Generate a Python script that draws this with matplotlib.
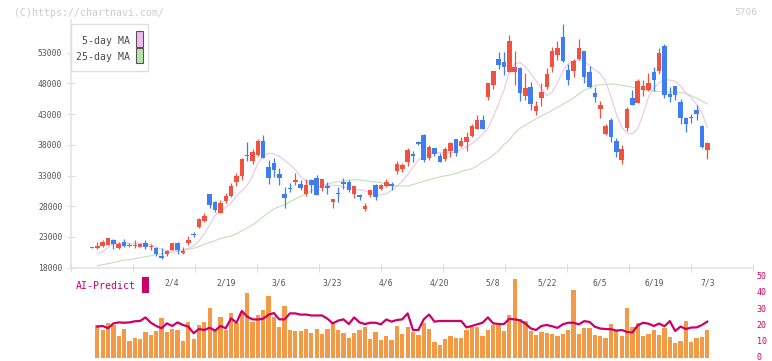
import numpy as np
import matplotlib
matplotlib.use('Agg')
import matplotlib.pyplot as plt
from matplotlib.patches import Rectangle
from matplotlib.transforms import ScaledTranslation

nan = np.nan

# ---- daily candles (first candle has no MA / volume values shown) ----
opens = [21300, 21210, 21530, 21750, 22510, 21210, 22180, 21530, 21600, 21420,
         22070, 21420, 21260, 19950, 20230, 20880, 22020, 20390, 22070, 23540,
         24630, 25600, 30000, 28750, 26950, 28910, 29670, 32000, 32930, 36400,
         35320, 36400, 38680, 34440, 35050, 33250, 30000, 31030, 31900, 31580,
         30000, 32280, 32550, 31030, 31300, 28750, 30230, 32000, 32000, 30000,
         29790, 27510, 29830, 31460, 30810, 31350, 31630, 33790, 34120, 35260,
         36510, 38460, 39600, 35910, 37440, 36180, 35650, 37050, 38950, 37820,
         38510, 39520, 40660, 42070, 45840, 47740, 51980, 51540, 49800, 49800,
         50560, 45950, 47470, 43510, 45680, 47370, 50720, 52680, 55600, 50190,
         50080, 52030, 53280, 49910, 46490, 43890, 39840, 42050, 38680, 35530,
         40690, 45580, 44860, 46930, 46930, 49910, 50080, 54100, 46280, 47580,
         45030, 42420, 42500, 43670, 41090, 37240]
highs = [21350, 22130, 22500, 22850, 22720, 22230, 22670, 22070, 22510, 22070,
         22510, 21910, 21420, 21200, 20880, 22050, 22180, 21420, 23160, 23810,
         26140, 26860, 30000, 28800, 29020, 30110, 31740, 33470, 35910, 38460,
         37270, 38950, 39600, 35530, 35810, 34180, 31190, 31740, 33370, 32280,
         32440, 32390, 33090, 32440, 32000, 29200, 31190, 32650, 32280, 31300,
         29960, 28480, 30650, 31630, 31580, 32440, 31900, 35370, 35000, 37440,
         37050, 38630, 39770, 37980, 37440, 36720, 37600, 38510, 38950, 39330,
         40140, 41470, 42860, 42860, 48020, 50000, 53070, 53070, 55880, 53330,
         50600, 49650, 48280, 45190, 48120, 50460, 53980, 54960, 57670, 51160,
         51920, 55230, 53300, 50840, 47470, 45140, 41470, 42320, 39070, 37980,
         44110, 46930, 48720, 48560, 49750, 50730, 53720, 54420, 47470, 47580,
         45420, 42580, 43020, 44490, 41210, 38490]
lows = [21280, 21050, 21420, 21750, 21100, 21100, 21420, 21320, 21210, 21320,
        21100, 20830, 19900, 19400, 19900, 20850, 20230, 20230, 21700, 22950,
        24410, 25440, 27770, 27120, 26950, 28580, 29560, 31300, 32280, 35420,
        34930, 36200, 35810, 31670, 32820, 31460, 27770, 30370, 31460, 30650,
        29720, 30110, 29830, 30540, 30000, 27770, 28750, 30810, 30370, 29300,
        29020, 27280, 29560, 29020, 30650, 31190, 30650, 33200, 33630, 34560,
        35260, 37980, 35260, 35530, 36180, 35260, 35420, 36070, 36180, 37700,
        37050, 39230, 40530, 40660, 45300, 47040, 50300, 49370, 49800, 47740,
        45140, 45300, 43670, 42860, 44330, 47040, 49910, 51810, 51540, 47700,
        48990, 51810, 48120, 47200, 45030, 42420, 39580, 38510, 36070, 34880,
        40310, 44490, 44860, 45950, 46820, 46820, 49530, 45580, 45030, 45300,
        41470, 40140, 41610, 42050, 37510, 35770]
closes = [21330, 21530, 22180, 22840, 21860, 21860, 21530, 21700, 21660, 21910,
          21420, 21580, 20280, 19630, 20720, 22020, 20880, 20770, 22560, 23280,
          25930, 26420, 28260, 27340, 28530, 29670, 31300, 32930, 35750, 36180,
          36790, 38680, 35910, 32650, 33900, 32650, 29400, 30760, 32280, 31030,
          31460, 31460, 29830, 32440, 31030, 29180, 29960, 31580, 30650, 31300,
          29510, 28090, 30650, 29560, 31460, 32000, 31350, 34880, 34720, 37160,
          36230, 38190, 35530, 37600, 36460, 35260, 37320, 38250, 36720, 38680,
          39330, 41090, 42070, 40660, 48020, 49970, 51000, 50730, 54910, 50630,
          46490, 47300, 44650, 44330, 46660, 49530, 53280, 53770, 51650, 48560,
          51650, 53770, 49120, 47470, 45840, 44490, 41090, 39330, 36880, 37270,
          43780, 44490, 48400, 47580, 48120, 48560, 53000, 46120, 45840, 46120,
          42320, 41470, 42450, 43020, 37680, 38330]

ma5 = [nan, 20300, 20650, 21300, 21900, 21970, 21970, 21970, 21970, 21970,
       21950, 21750, 21350, 21000, 20800, 20730, 20740, 20900, 21150, 21550,
       22400, 23500, 25000, 26500, 27250, 27800, 28600, 29700, 30500, 31400,
       32900, 35000, 36100, 36650, 36550, 36100, 35500, 34800, 33900, 32900,
       32100, 31650, 31300, 31300, 31380, 31410, 31400, 31190, 30850, 30700,
       30650, 30550, 30200, 29900, 29840, 30050, 30600, 31250, 32100, 33100,
       34400, 35550, 36150, 36550, 36700, 36730, 36700, 36640, 36850, 37250,
       37700, 38200, 38900, 39700, 40700, 42600, 44700, 46900, 50000, 51200,
       51380, 50700, 49600, 48400, 47200, 46000, 46600, 48100, 50000, 51200,
       51700, 51850, 51600, 50900, 50200, 49600, 48400, 45800, 43000, 40900,
       39900, 39800, 40600, 43000, 45800, 47200, 48100, 48600, 48560, 48350,
       47600, 46400, 45700, 44600, 43200, 40900]
ma25 = [nan, 18300, 18500, 18650, 18850, 19050, 19230, 19320, 19450, 19650,
        19800, 19950, 20100, 20250, 20380, 20520, 20680, 20820, 20990, 21180,
        21450, 21850, 22100, 22400, 22750, 22950, 23150, 23550, 24000, 24450,
        24950, 25600, 26300, 26950, 27600, 27900, 28250, 28750, 29200, 29600,
        30050, 30500, 30900, 31350, 31600, 31850, 32000, 32100, 32250, 32300,
        32300, 32200, 32050, 31950, 31850, 31600, 31400, 31300, 31300, 31300,
        31550, 31800, 32050, 32300, 32550, 32800, 32950, 33100, 33350, 33650,
        33900, 34100, 34600, 35200, 35650, 36300, 37100, 38050, 38800, 39900,
        40690, 41200, 41700, 42250, 42700, 43150, 43600, 44100, 44600, 45100,
        45600, 46300, 46900, 47300, 47650, 47780, 47850, 47900, 47850, 47700,
        47550, 47400, 47200, 46950, 46800, 46750, 46700, 46650, 46600, 46550,
        46500, 46400, 46000, 45600, 45100, 44650]

volume = [nan, 20.6, 17.5, 22.0, 20.6, 13.8, 18.1, 10.9, 12.5, 11.9, 16.5,
          14.4, 16.9, 24.9, 16.3, 18.1, 17.5, 10.9, 22.7, 11.9, 20.6,
          22.5, 31.1, 17.5, 25.8, 17.5, 28.2, 21.6, 28.2, 40.6, 22.7,
          26.8, 29.9, 38.6, 25.8, 19.6, 32.4, 17.5, 16.9, 16.9, 18.1,
          15.8, 18.1, 15.0, 18.1, 22.7, 17.5, 15.8, 12.5, 15.8, 17.5,
          19.6, 11.9, 16.5, 11.3, 13.8, 11.3, 20.0, 15.0, 19.6, 16.5,
          14.4, 22.0, 18.1, 10.3, 8.2, 11.9, 13.8, 12.5, 12.5, 17.5,
          19.6, 19.6, 13.8, 17.5, 20.6, 20.6, 16.9, 26.8, 49.1, 24.3,
          23.1, 16.9, 14.4, 16.5, 15.8, 15.0, 13.8, 15.0, 17.5, 42.3,
          15.0, 18.7, 18.7, 14.4, 13.8, 12.5, 21.2, 16.9, 13.8, 31.1,
          19.3, 21.8, 13.8, 15.0, 17.5, 14.4, 18.7, 13.2, 9.6, 10.7,
          23.1, 10.0, 12.5, 13.2, 17.5]
ai_predict = [nan, 19.6, 20.0, 18.6, 21.6, 22.2, 22.0, 22.2, 22.9, 23.1, 25.3,
              22.0, 20.0, 18.6, 21.6, 20.0, 22.2, 20.6, 19.6, 15.5, 18.1,
              17.5, 18.9, 17.1, 20.0, 18.6, 24.7, 22.0, 29.3, 25.8, 24.1,
              24.0, 24.5, 27.0, 28.0, 24.1, 24.1, 27.8, 27.8, 27.0, 27.1,
              26.5, 26.5, 26.5, 24.5, 21.6, 23.3, 24.1, 21.2, 25.3, 22.2,
              21.2, 22.0, 22.0, 21.0, 24.0, 22.7, 23.7, 24.1, 27.8, 17.5,
              17.5, 24.1, 27.1, 22.7, 23.1, 23.1, 23.1, 23.1, 23.1, 19.1,
              20.0, 21.0, 22.0, 25.3, 21.6, 21.2, 21.2, 24.4, 24.1, 23.5,
              21.5, 18.5, 17.5, 20.0, 20.6, 19.8, 18.8, 21.0, 22.0, 22.0,
              21.0, 23.0, 22.5, 19.5, 18.4, 18.1, 18.0, 17.1, 17.5, 16.3,
              15.9, 20.3, 22.0, 21.4, 20.0, 21.5, 19.8, 23.0, 16.9, 19.6,
              18.1, 19.0, 19.1, 20.6, 22.7]

label_dates = ['2/4', '2/19', '3/6', '3/23', '4/6', '4/20', '5/8', '5/22', '6/5', '6/19', '7/3']
label_pos = [15, 25, 35, 45, 55, 65, 75, 85, 95, 105, 115]
price_ticks = [18000, 23000, 28000, 33000, 38000, 43000, 48000, 53000]
ai_ticks = [0, 10, 20, 30, 40, 50]

# ---- styling ----
RED = '#f0523f'
BLUE = '#3f7ef0'
MONO = 'DejaVu Sans Mono'
W, H = 772, 361

fig = plt.figure(figsize=(W / 100, H / 100), dpi=100)
fig.patch.set_facecolor('white')

def fx(px):
    return px / W

def fy(py):
    return 1 - py / H

XL0, XL1 = -3.98, 123.49

ax = fig.add_axes([fx(70.7), fy(267.7), fx(752.7) - fx(70.7), fy(20) - fy(267.7)])
ax.set_xlim(XL0, XL1)
ax.set_ylim(18000, 58325)

idx = np.arange(len(opens))
o = np.array(opens, float)
c = np.array(closes, float)
up = c >= o
cols = np.where(up, RED, BLUE)
lo = np.minimum(o, c)
hgt = np.abs(c - o)
mid = (o + c) / 2
minh = 130
bot = np.where(hgt < minh, mid - minh / 2, lo)
hgt = np.maximum(hgt, minh)

ax.plot(idx, ma25, color='#c0e2b4', lw=0.8, zorder=2)
ax.plot(idx, ma5, color='#ecc4ec', lw=0.8, zorder=2)
ax.vlines(idx, lows, highs, colors=cols, lw=0.9, zorder=3)
ax.bar(idx, hgt, bottom=bot, width=0.84, color=cols, linewidth=0, zorder=4)

for s in ['top', 'right']:
    ax.spines[s].set_visible(False)
for s in ['left', 'bottom']:
    ax.spines[s].set_color('#e2e2e2')
    ax.spines[s].set_linewidth(1.1)

ax.set_yticks(price_ticks)
ax.set_yticklabels([str(t) for t in price_ticks], family=MONO)
ax.set_xticks(np.linspace(XL0, XL1, 12))
ax.set_xticklabels([])
ax.tick_params(axis='both', direction='inout', length=6, width=0.8,
               color='#dddddd', labelsize=5.8, labelcolor='#555555', pad=3)

for p, d in zip(label_pos, label_dates):
    ax.text(p, -0.062, d, transform=ax.get_xaxis_transform(), ha='center',
            va='center', fontsize=5.8, color='#555555', family=MONO, clip_on=False)

# ---- bottom AI-Predict panel ----
ax2 = fig.add_axes([fx(70.7), fy(358.2), fx(752.7) - fx(70.7), fy(277.6) - fy(358.2)])
ax2.set_xlim(XL0, XL1)
ax2.set_ylim(0, 50)
ax2.bar(idx, volume, width=0.8, color='#f29a45', linewidth=0, zorder=2)
ax2.plot(idx, ai_predict, color='#cc0066', lw=1.6, zorder=3)
for s in ax2.spines.values():
    s.set_visible(False)
ax2.set_xticks([])
ax2.yaxis.tick_right()
ax2.set_yticks(ai_ticks)
ax2.set_yticklabels([str(t) for t in ai_ticks], family=MONO)
ax2.tick_params(axis='y', length=0, pad=3, labelsize=6, labelcolor='#cc0066')
shift = ScaledTranslation(0, 1.8 / 100, fig.dpi_scale_trans)
for lbl in ax2.get_yticklabels():
    lbl.set_transform(lbl.get_transform() + shift)
ax2.patch.set_alpha(0)

# ---- legend box ----
fig.patches.append(Rectangle((fx(70.7), fy(71)), fx(148.3) - fx(70.7), fy(24.3) - fy(71),
                             transform=fig.transFigure, facecolor='white',
                             edgecolor='#e0e0e0', lw=1.0, zorder=10))
fig.text(fx(129.5), fy(40.7), '5-day MA', ha='right', va='center', fontsize=7.1,
         color='#4a4a4a', family=MONO, zorder=11)
fig.text(fx(129.5), fy(57.3), '25-day MA', ha='right', va='center', fontsize=7.1,
         color='#4a4a4a', family=MONO, zorder=11)
fig.patches.append(Rectangle((fx(136.3), fy(46.7)), fx(142.6) - fx(136.3), fy(31) - fy(46.7),
                             transform=fig.transFigure, facecolor='#eebcee',
                             edgecolor='#555555', lw=0.8, zorder=11))
fig.patches.append(Rectangle((fx(136.3), fy(63.3)), fx(142.6) - fx(136.3), fy(48.3) - fy(63.3),
                             transform=fig.transFigure, facecolor='#bce0b0',
                             edgecolor='#555555', lw=0.8, zorder=11))

# ---- other texts ----
fig.text(fx(14), fy(12.7), '(C)https://chartnavi.com/', ha='left', va='center',
         fontsize=7.1, color='#cccccc', family=MONO)
fig.text(fx(757), fy(12.7), '5706', ha='right', va='center', fontsize=6.8,
         color='#cccccc', family=MONO)
fig.text(fx(76), fy(286), 'AI-Predict', ha='left', va='center', fontsize=7.1,
         color='#cc0066', family=MONO)
fig.patches.append(Rectangle((fx(142.3), fy(292.7)), fx(149) - fx(142.3), fy(276.7) - fy(292.7),
                             transform=fig.transFigure, facecolor='#cc0066',
                             edgecolor='none', zorder=5))

fig.savefig('out.png', dpi=100, facecolor='white')
